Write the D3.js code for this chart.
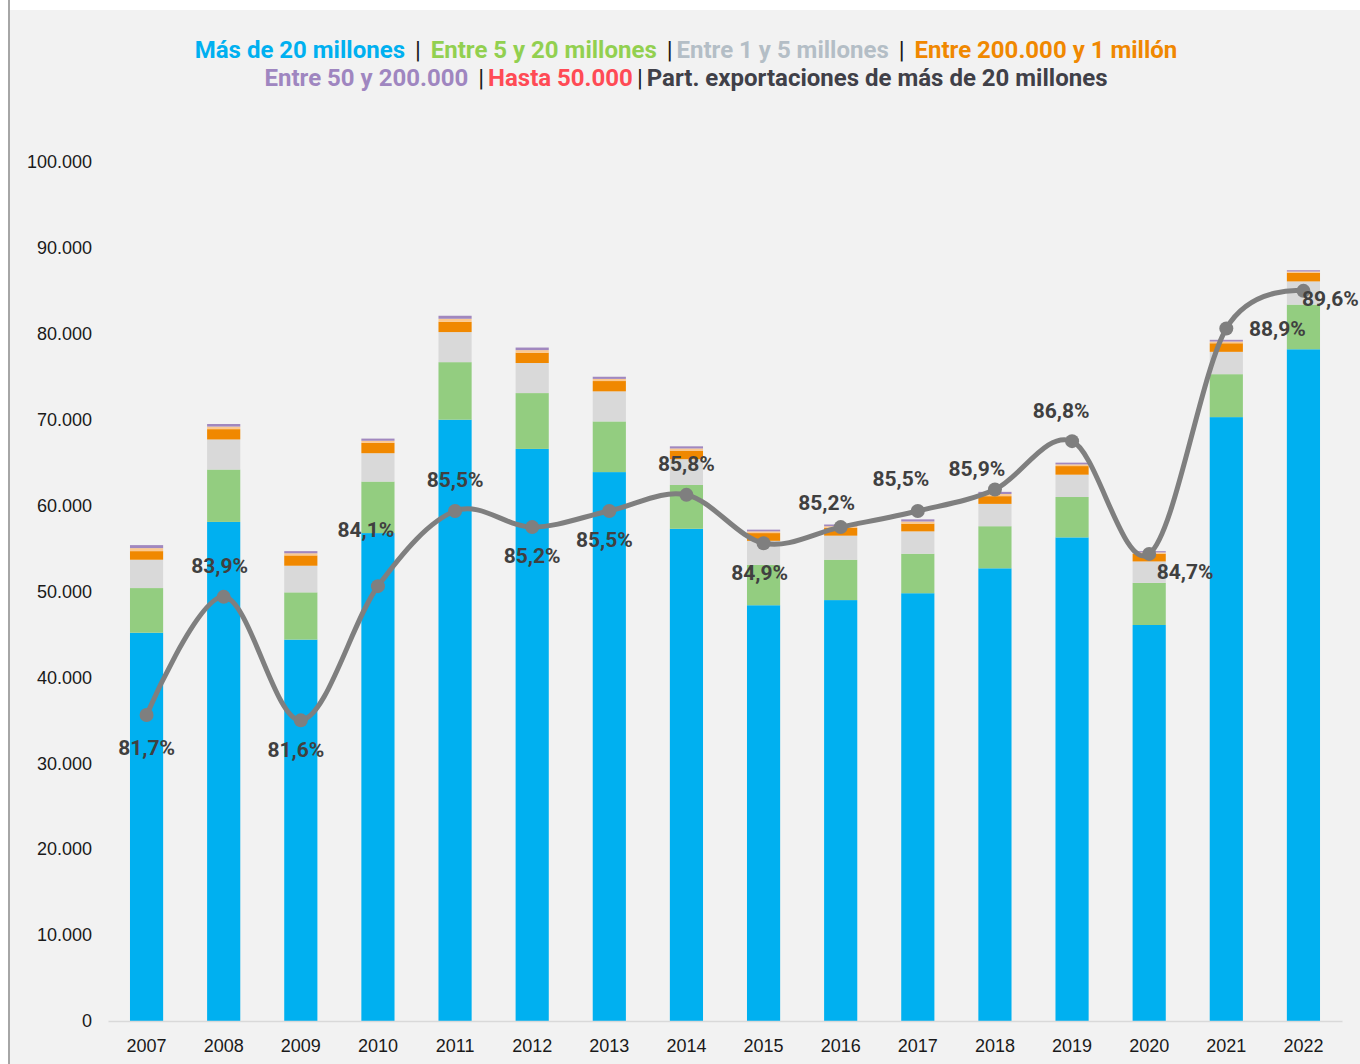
<!DOCTYPE html>
<html>
<head>
<meta charset="utf-8">
<script src="https://cdn.jsdelivr.net/npm/d3@7"></script>
<style>
  body { margin: 0; background: #fff; }
  svg { display: block; }
</style>
</head>
<body>
<div id="chart"></div>
<script>
// data (millones USD, participación en %)
var years = ["2007","2008","2009","2010","2011","2012","2013","2014","2015","2016","2017","2018","2019","2020","2021","2022"];
var mas20 = [45200, 58100, 44400, 56800, 70000, 66600, 63900, 57300, 48400, 49000, 49800, 52700, 56300, 46100, 70300, 78200];
var entre5y20 = [5200, 6100, 5500, 6000, 6700, 6500, 5900, 5100, 4700, 4700, 4600, 4900, 4700, 4900, 5000, 5200];
var entre1y5 = [3300, 3500, 3100, 3300, 3500, 3500, 3500, 3000, 2800, 2800, 2600, 2600, 2600, 2500, 2600, 2700];
var entre200y1 = [1000, 1200, 1200, 1200, 1200, 1200, 1200, 1000, 900, 900, 900, 900, 1000, 900, 1000, 1000];
var hasta50 = [350, 300, 250, 250, 350, 300, 250, 250, 200, 200, 250, 250, 200, 150, 200, 150];
var entre50y200 = [350, 300, 250, 250, 350, 300, 250, 250, 200, 200, 250, 250, 200, 150, 200, 150];
var partMas20 = [81.7, 83.9, 81.6, 84.1, 85.5, 85.2, 85.5, 85.8, 84.9, 85.2, 85.5, 85.9, 86.8, 84.7, 88.9, 89.6];
var yTicks = [0, 10000, 20000, 30000, 40000, 50000, 60000, 70000, 80000, 90000, 100000];

// label nudges for the percentage labels [dx, dy] (from point to label centre)
var labelNudge = [[0,33],[-4,-31],[-5,29],[-12,-56],[0,-31],[0,29],[-5,29],[0,-31],[-4,29],[-14,-24],[-17,-32],[-18,-21],[-11,-31],[36,18],[51,0],[27,8]];

var series = [
  {key: "mas20", values: mas20, color: "#00b0f0"},
  {key: "entre5y20", values: entre5y20, color: "#93cd80"},
  {key: "entre1y5", values: entre1y5, color: "#d9d9d9"},
  {key: "entre200y1", values: entre200y1, color: "#f08800"},
  {key: "hasta50", values: hasta50, color: "#fcc98f"},
  {key: "entre50y200", values: entre50y200, color: "#a188bf"}
];

var W = 1360, H = 1064;
var svg = d3.select("#chart").append("svg")
    .attr("width", W)
    .attr("height", H);

// chart area background + left frame line
svg.append("rect")
    .attr("x", 9).attr("y", 10)
    .attr("width", W - 9).attr("height", H - 10)
    .attr("fill", "#f2f2f2");
svg.append("line")
    .attr("x1", 9).attr("x2", 9)
    .attr("y1", 0).attr("y2", H)
    .attr("stroke", "#a6a6a6")
    .attr("stroke-width", 2);

var x = d3.scaleBand()
    .domain(years)
    .range([108, 1342])
    .paddingInner(0.57)
    .paddingOuter(0.285);
var y = d3.scaleLinear().domain([0, 100000]).range([1021, 162]);
var y2 = d3.scaleLinear().domain([76, 92]).range([1021, 162]);

// build table for stack
var table = years.map(function(yr, i) {
  var row = {year: yr};
  series.forEach(function(s) { row[s.key] = s.values[i]; });
  return row;
});
var stack = d3.stack().keys(series.map(function(s) { return s.key; }));
var layers = stack(table);

svg.append("g").selectAll("g")
    .data(layers)
    .join("g")
    .attr("fill", function(d, i) { return series[i].color; })
  .selectAll("rect")
    .data(function(d) { return d; })
    .join("rect")
    .attr("x", function(d) { return x(d.data.year); })
    .attr("y", function(d) { return y(d[1]); })
    .attr("width", x.bandwidth())
    .attr("height", function(d) { return y(d[0]) - y(d[1]); });

// y axis
var fmt = d3.formatLocale({decimal: ",", thousands: ".", grouping: [3], currency: ["$", ""]}).format(",d");
var yAxis = svg.append("g")
    .attr("transform", "translate(108,0)")
    .call(d3.axisLeft(y).tickValues(yTicks).tickFormat(fmt).tickSize(0).tickPadding(16));
yAxis.select(".domain").remove();
yAxis.selectAll("text")
    .attr("font-family", "'Liberation Sans', Arial, sans-serif")
    .attr("font-size", 18)
    .attr("fill", "#1a1a1a");

// x axis
var xAxis = svg.append("g")
    .attr("transform", "translate(0,1021)")
    .call(d3.axisBottom(x).tickSize(0).tickPadding(18));
xAxis.select(".domain")
    .attr("stroke", "#d9d9d9")
    .attr("stroke-width", 1.5);
xAxis.selectAll("text")
    .attr("font-family", "'Liberation Sans', Arial, sans-serif")
    .attr("font-size", 18)
    .attr("fill", "#1a1a1a");

// share line (secondary axis, hidden)
var cx = function(i) { return x(years[i]) + x.bandwidth() / 2; };
var line = d3.line()
    .x(function(d, i) { return cx(i); })
    .y(function(d) { return y2(d); })
    .curve(d3.curveCardinal.tension(0));

svg.append("path")
    .datum(partMas20)
    .attr("fill", "none")
    .attr("stroke", "#7f7f7f")
    .attr("stroke-width", 5)
    .attr("d", line);

svg.append("g").selectAll("circle")
    .data(partMas20)
    .join("circle")
    .attr("cx", function(d, i) { return cx(i); })
    .attr("cy", function(d) { return y2(d); })
    .attr("r", 7)
    .attr("fill", "#7f7f7f");

svg.append("g").selectAll("text")
    .data(partMas20)
    .join("text")
    .attr("x", function(d, i) { return cx(i) + labelNudge[i][0]; })
    .attr("y", function(d, i) { return y2(d) + labelNudge[i][1]; })
    .attr("dy", "0.35em")
    .attr("text-anchor", "middle")
    .attr("font-family", "Roboto, sans-serif")
    .attr("font-weight", "bold")
    .attr("font-size", 21)
    .attr("fill", "#404040")
    .text(function(d) { return d.toFixed(1).replace(".", ",") + "%"; });

// legend (two centred lines, like the original text box)
var legendRows = [
  [["Más de 20 millones", "#00b0f0"], [" | ", "#1a1a1a"], ["Entre 5 y 20 millones", "#92d050"], [" |", "#1a1a1a"],
   ["Entre 1 y 5 millones", "#b4bec6"], [" | ", "#1a1a1a"], ["Entre 200.000 y 1 millón", "#f08800"]],
  [["Entre 50 y 200.000", "#9f86c0"], [" |", "#1a1a1a"], ["Hasta 50.000", "#ff4b55"], ["|", "#1a1a1a"],
   ["Part. exportaciones de más de 20 millones", "#404048"]]
];
legendRows.forEach(function(row, r) {
  var t = svg.append("text")
      .attr("x", 686)
      .attr("y", 58 + r * 28)
      .attr("text-anchor", "middle")
      .attr("font-family", "Roboto, sans-serif")
      .attr("font-weight", "bold")
      .attr("font-size", 24)
      .attr("xml:space", "preserve")
      .style("white-space", "pre");
  row.forEach(function(p, j) {
    var isSep = p[0].indexOf("|") >= 0;
    var ts = t.append("tspan")
        .attr("fill", p[1])
        .attr("font-weight", isSep ? "normal" : "bold")
        .text(p[0]);
    if (isSep) ts.attr("dx", 4);
    if (j > 0 && row[j - 1][0].indexOf("|") >= 0) ts.attr("dx", 4);
  });
});
</script>
</body>
</html>
